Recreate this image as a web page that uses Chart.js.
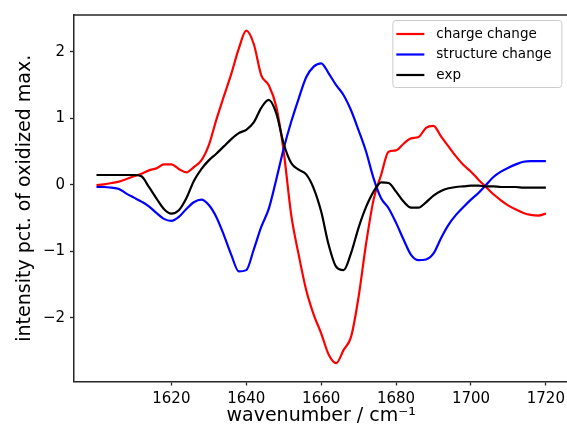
<!DOCTYPE html>
<html>
<head>
<meta charset="utf-8">
<script src="https://cdn.jsdelivr.net/npm/chart.js@4"></script>
<style>
    html, body { margin: 0; padding: 0; background: #fff; overflow: hidden; }
    #chart-spectra { display: block; }
</style>
</head>
<body>
<canvas id="chart-spectra" width="570" height="433"></canvas>
<script>
// wavenumber grid (cm^-1)
const wavenumbers = [
    1600, 1602, 1604, 1606, 1608, 1610, 1612, 1614, 1616, 1618,
    1620, 1622, 1624, 1626, 1628, 1630, 1632, 1634, 1636, 1638,
    1640, 1642, 1644, 1646, 1648, 1650, 1652, 1654, 1656, 1658,
    1660, 1662, 1664, 1666, 1668, 1670, 1672, 1674, 1676, 1678,
    1680, 1682, 1684, 1686, 1688, 1690, 1692, 1694, 1696, 1698,
    1700, 1702, 1704, 1706, 1708, 1710, 1712, 1714, 1716, 1718,
    1720
];
const chargeChange = [
    0.00, 0.01, 0.03, 0.05, 0.09, 0.13, 0.17, 0.22, 0.25, 0.31,
    0.31, 0.24, 0.19, 0.27, 0.37, 0.60, 0.98, 1.33, 1.67, 2.05,
    2.32, 2.12, 1.65, 1.50, 1.18, 0.50, -0.45, -1.05, -1.58, -1.95,
    -2.23, -2.55, -2.68, -2.48, -2.28, -1.68, -0.88, -0.22, 0.15, 0.50,
    0.52, 0.62, 0.70, 0.72, 0.86, 0.89, 0.73, 0.58, 0.43, 0.30,
    0.20, 0.08, -0.03, -0.14, -0.23, -0.31, -0.37, -0.42, -0.45, -0.46,
    -0.43
];
const structureChange = [
    -0.03, -0.03, -0.04, -0.06, -0.13, -0.19, -0.25, -0.32, -0.42, -0.51,
    -0.54, -0.48, -0.36, -0.26, -0.22, -0.30, -0.48, -0.75, -1.05, -1.30,
    -1.28, -0.97, -0.63, -0.36, 0.08, 0.55, 0.95, 1.30, 1.62, 1.78,
    1.83, 1.68, 1.50, 1.35, 1.12, 0.82, 0.50, 0.10, -0.20, -0.35,
    -0.57, -0.82, -1.05, -1.13, -1.12, -1.03, -0.80, -0.60, -0.45, -0.33,
    -0.22, -0.12, 0.00, 0.12, 0.20, 0.26, 0.31, 0.35, 0.36, 0.36,
    0.36
];
const expSignal = [
    0.15, 0.15, 0.15, 0.15, 0.15, 0.15, 0.13, -0.03, -0.20, -0.36,
    -0.43, -0.38, -0.20, 0.06, 0.24, 0.37, 0.47, 0.58, 0.69, 0.78,
    0.83, 0.94, 1.16, 1.28, 1.08, 0.62, 0.33, 0.23, 0.16, -0.05,
    -0.40, -0.90, -1.23, -1.28, -1.02, -0.64, -0.33, -0.10, 0.04, 0.03,
    -0.10, -0.25, -0.34, -0.34, -0.26, -0.16, -0.09, -0.05, -0.03, -0.02,
    -0.01, -0.01, -0.02, -0.02, -0.03, -0.03, -0.03, -0.04, -0.04, -0.04,
    -0.04
];
const seriesLabels = ['charge change', 'structure change', 'exp'];
const xTicks = [1620, 1640, 1660, 1680, 1700, 1720];
const yTicks = [-2, -1, 0, 1, 2];

const colors = {
    charge: '#ff0000',
    structure: '#0000ff',
    exp: '#000000',
    frame: '#262626',
    legendEdge: '#cccccc'
};
const fontFamily = '"DejaVu Sans", sans-serif';

const toPoints = values => wavenumbers.map((x, i) => ({ x, y: values[i] }));

// matplotlib-style legend box in the upper right corner
const legendBox = {
    id: 'legendBox',
    afterDraw(chart) {
        const { ctx, chartArea } = chart;
        const boxW = 169, boxH = 67;
        const x0 = chartArea.right - boxW - 7;
        const y0 = chartArea.top + 5;
        ctx.save();
        ctx.fillStyle = 'rgba(255,255,255,0.8)';
        ctx.strokeStyle = colors.legendEdge;
        ctx.lineWidth = 1;
        ctx.beginPath();
        ctx.roundRect(x0 + 0.5, y0 + 0.5, boxW, boxH, 3);
        ctx.fill();
        ctx.stroke();
        ctx.font = `13.5px ${fontFamily}`;
        ctx.textBaseline = 'middle';
        chart.data.datasets.forEach((ds, i) => {
            const y = y0 + 14 + i * 20.5;
            ctx.strokeStyle = ds.borderColor;
            ctx.lineWidth = 2.2;
            ctx.beginPath();
            ctx.moveTo(x0 + 4, y);
            ctx.lineTo(x0 + 32, y);
            ctx.stroke();
            ctx.fillStyle = '#000';
            ctx.fillText(ds.label, x0 + 44, y);
        });
        ctx.restore();
    }
};

// top spine of the frame
const topSpine = {
    id: 'topSpine',
    afterDatasetsDraw(chart) {
        const { ctx, chartArea } = chart;
        ctx.save();
        ctx.strokeStyle = colors.frame;
        ctx.lineWidth = 1.5;
        ctx.beginPath();
        ctx.moveTo(chartArea.left, chartArea.top);
        ctx.lineTo(chartArea.right, chartArea.top);
        ctx.stroke();
        ctx.restore();
    }
};

const lineStyle = { borderWidth: 2.2, pointRadius: 0, cubicInterpolationMode: 'monotone', fill: false };

new Chart(document.getElementById('chart-spectra'), {
    type: 'line',
    data: {
        datasets: [
            { label: seriesLabels[0], data: toPoints(chargeChange), borderColor: colors.charge, order: 3, ...lineStyle },
            { label: seriesLabels[1], data: toPoints(structureChange), borderColor: colors.structure, order: 2, ...lineStyle },
            { label: seriesLabels[2], data: toPoints(expSignal), borderColor: colors.exp, order: 1, ...lineStyle }
        ]
    },
    options: {
        responsive: false,
        animation: false,
        devicePixelRatio: 1,
        layout: { padding: { left: 0, top: 15, right: 1, bottom: 0 } },
        plugins: {
            legend: { display: false },
            tooltip: { enabled: false }
        },
        scales: {
            x: {
                type: 'linear',
                min: 1594,
                max: 1726,
                afterBuildTicks: scale => { scale.ticks = xTicks.map(value => ({ value })); },
                afterFit: scale => { scale.height = 51.5; },
                ticks: {
                    color: '#000',
                    padding: 5,
                    maxRotation: 0,
                    font: { family: fontFamily, size: 15 },
                    callback: value => String(value)
                },
                grid: { drawOnChartArea: false, drawTicks: true, tickLength: 4, tickColor: colors.frame, tickWidth: 1.3 },
                border: { display: true, color: colors.frame, width: 1.5 },
                title: {
                    display: true,
                    text: 'wavenumber / cm⁻¹',
                    color: '#000',
                    padding: { top: 0, bottom: 6 },
                    font: { family: fontFamily, size: 19 }
                }
            },
            y: {
                min: -2.955,
                max: 2.556,
                afterBuildTicks: scale => { scale.ticks = yTicks.map(value => ({ value })); },
                afterFit: scale => { scale.width = 74; },
                ticks: {
                    color: '#000',
                    padding: 5,
                    font: { family: fontFamily, size: 15 },
                    callback: value => (value < 0 ? '\u2212' + Math.abs(value) : String(value))
                },
                grid: { drawOnChartArea: false, drawTicks: true, tickLength: 4, tickColor: colors.frame, tickWidth: 1.3 },
                border: { display: true, color: colors.frame, width: 1.5 },
                title: {
                    display: true,
                    text: 'intensity pct. of oxidized max.',
                    color: '#000',
                    padding: { top: 14, bottom: 0 },
                    font: { family: fontFamily, size: 19 }
                }
            }
        }
    },
    plugins: [legendBox, topSpine]
});
</script>
</body>
</html>
